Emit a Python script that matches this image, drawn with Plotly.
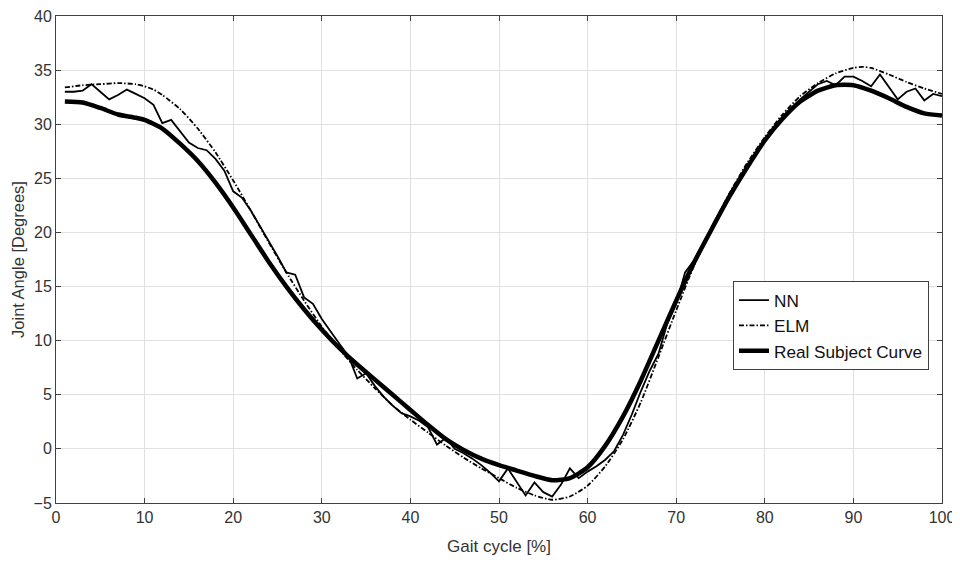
import plotly.graph_objects as go

# Real Subject Curve (thick smooth)
real_x = [1, 3, 5, 7, 9, 10, 12, 14, 16, 18, 20, 22, 24, 26, 28, 30, 32, 34, 36, 38, 40,
          42, 44, 46, 48, 50, 52, 54, 56, 58, 60, 62, 64, 66, 68, 70, 72, 74, 76, 78, 80,
          82, 84, 86, 88, 90, 92, 94, 96, 98, 100]
real_y = [32.1, 32.0, 31.5, 30.9, 30.6, 30.4, 29.6, 28.2, 26.6, 24.6, 22.3, 19.8, 17.3, 15.0,
          12.9, 11.0, 9.3, 7.8, 6.4, 5.0, 3.6, 2.2, 0.9, -0.1, -0.9, -1.5, -2.0, -2.5, -2.9,
          -2.7, -1.7, 0.3, 3.0, 6.3, 10.0, 13.7, 17.2, 20.3, 23.3, 26.0, 28.5, 30.5, 32.1,
          33.1, 33.6, 33.6, 33.1, 32.4, 31.6, 31.0, 30.8]

# ELM (dash-dot smooth)
elm_x = [1, 3, 5, 7, 9, 10, 11, 12, 14, 16, 18, 20, 22, 24, 26, 28, 30, 32, 34, 36, 38, 40,
         42, 44, 46, 48, 50, 52, 54, 56, 58, 60, 62, 64, 66, 68, 70, 72, 74, 76, 78, 80,
         82, 84, 86, 88, 90, 91, 92, 94, 96, 98, 100]
elm_y = [33.4, 33.6, 33.7, 33.8, 33.7, 33.5, 33.2, 32.7, 31.4, 29.6, 27.4, 24.8, 22.0, 19.1,
         16.3, 13.7, 11.3, 9.2, 7.3, 5.6, 4.0, 2.7, 1.5, 0.3, -0.8, -1.8, -2.7, -3.6, -4.3,
         -4.7, -4.4, -3.4, -1.6, 0.9, 4.3, 8.5, 12.8, 16.9, 20.4, 23.6, 26.4, 28.8, 30.9,
         32.6, 33.8, 34.7, 35.2, 35.3, 35.2, 34.6, 33.9, 33.3, 32.8]

# NN (thin jagged)
nn_x = [1, 2, 3, 4, 5, 6, 7, 8, 9, 10, 11, 12, 13, 14, 15, 16, 17, 18, 19, 20, 21, 22, 23,
        24, 25, 26, 27, 28, 29, 30, 31, 32, 33, 34, 35, 36, 37, 38, 39, 40, 41, 42, 43, 44,
        45, 46, 47, 48, 49, 50, 51, 52, 53, 54, 55, 56, 57, 58, 59, 60, 61, 62, 63, 64, 65,
        66, 67, 68, 69, 70, 71, 72, 74, 76, 78, 80, 82, 84, 85, 86, 87, 88, 89, 90, 91, 92,
        93, 94, 95, 96, 97, 98, 99, 100]
nn_y = [33.0, 33.0, 33.1, 33.7, 33.0, 32.3, 32.7, 33.2, 32.8, 32.4, 31.8, 30.1, 30.4, 29.3,
        28.3, 27.8, 27.6, 26.8, 25.7, 23.8, 23.2, 22.0, 20.6, 19.3, 17.8, 16.3, 16.1, 14.0,
        13.4, 12.0, 10.8, 9.7, 8.6, 6.5, 7.0, 5.8, 4.8, 4.0, 3.3, 3.0, 2.6, 2.0, 0.4, 1.0,
        0.0, -0.4, -0.9, -1.5, -2.2, -3.0, -1.8, -3.0, -4.3, -3.1, -4.0, -4.4, -3.3, -1.8,
        -2.7, -2.1, -1.6, -1.0, -0.2, 1.3, 3.2, 5.3, 7.2, 8.8, 11.6, 13.4, 16.3, 17.4, 20.5,
        23.5, 26.1, 28.6, 30.7, 32.3, 33.0, 33.7, 34.0, 33.6, 34.4, 34.4, 34.0, 33.5, 34.6,
        33.5, 32.3, 33.0, 33.3, 32.2, 32.8, 32.6]

x_ticks = [0, 10, 20, 30, 40, 50, 60, 70, 80, 90, 100]
y_ticks = [-5, 0, 5, 10, 15, 20, 25, 30, 35, 40]

FONT = "Liberation Sans, Arial, sans-serif"
AXC = "#404040"

fig = go.Figure()
fig.add_trace(go.Scatter(x=nn_x, y=nn_y, mode="lines", name="NN",
                         line=dict(color="black", width=1.8)))
fig.add_trace(go.Scatter(x=elm_x, y=elm_y, mode="lines", name="ELM",
                         line=dict(color="black", width=1.8, dash="5px,2px,1.5px,2px",
                                   shape="spline", smoothing=0.6)))
fig.add_trace(go.Scatter(x=real_x, y=real_y, mode="lines", name="Real Subject Curve",
                         line=dict(color="black", width=4.5, shape="spline", smoothing=0.6)))

axis_common = dict(showline=True, linecolor=AXC, linewidth=1, mirror="ticks",
                   ticks="inside", ticklen=5, tickcolor=AXC, tickwidth=1,
                   showgrid=True, gridcolor="#e0e0e0", gridwidth=1, zeroline=False,
                   automargin=False, ticklabeloverflow="allow",
                   tickfont=dict(family=FONT, size=16, color="#333333"))

fig.update_layout(
    width=952, height=557,
    margin=dict(l=48, r=18, t=8, b=62, autoexpand=False),
    paper_bgcolor="white", plot_bgcolor="white",
    showlegend=True,
    legend=dict(x=0.9853, xanchor="right", y=0.455, yanchor="top",
                bgcolor="white", bordercolor=AXC, borderwidth=1,
                font=dict(family=FONT, size=17.2, color="#111111"),
                tracegroupgap=0),
    xaxis=dict(range=[0, 100], tickvals=x_ticks,
               title=dict(text="Gait cycle [%]", font=dict(family=FONT, size=17, color="#333333"),
                          standoff=14),
               **axis_common),
    yaxis=dict(range=[-5, 40], tickvals=y_ticks,
               title=dict(text="Joint Angle [Degrees]", font=dict(family=FONT, size=16.5, color="#333333"),
                          standoff=4),
               **axis_common),
)

fig.write_html("out.html")
